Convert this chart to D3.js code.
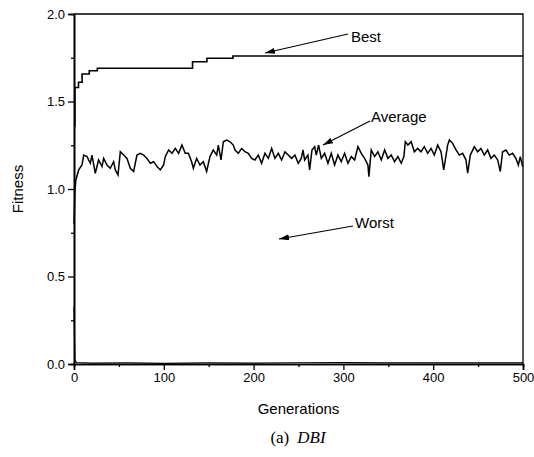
<!DOCTYPE html>
<html>
<head>
<meta charset="utf-8">
<script src="https://cdn.jsdelivr.net/npm/d3@7"></script>
<style>
  body { margin: 0; background: #fff; }
  text { font-family: "Liberation Sans", Arial, sans-serif; fill: #000; }
</style>
</head>
<body>
<svg id="chart"></svg>
<script>
// best fitness per generation (step changes only)
const bestGen = [0, 1, 5, 9, 17, 26, 132, 148, 177, 500]
const bestVal = [1.36, 1.58, 1.61, 1.657, 1.676, 1.69, 1.727, 1.747, 1.76, 1.76]

// average fitness
const avgGen = [0, 1, 2, 5.2, 8.9, 10.8, 14.5, 18.2, 20, 23.7, 27.4, 31.2, 33, 36.7, 40.4, 44.1, 46, 49, 51.6, 55.3,
  59, 62.7, 66.4, 70.1, 73.8, 77.5, 81.2, 85, 88.7, 92.4, 96.1, 99.8, 101.6, 105.4, 109.1, 112.8, 116.5, 120.2, 123.9,
  127.3, 131, 132.9, 136.6, 140.3, 144, 147.7, 151.4, 155.1, 158.9, 160.7, 163.7, 166.3, 170, 173.7, 177.4, 179.3,
  183, 186.7, 190.4, 194.1, 197.8, 201.5, 205.2, 208.9, 212.7, 216.4, 220.1, 223.8, 227.5, 231.2, 234.9, 238.6,
  242.3, 246, 249.7, 253.1, 255, 256.8, 260.5, 262.4, 265, 268, 269.8, 272.4, 275.4, 279.1, 282.8, 286.5, 290.2,
  293.9, 297.6, 301.3, 305.1, 308.8, 312.5, 316.2, 319.9, 323.6, 327.3, 328.4, 331, 334.7, 338.4, 342.2, 345.9,
  349.6, 353.3, 357, 360.7, 364.4, 367.4, 368.9, 371.8, 375.5, 379, 382.7, 386.4, 390.1, 393.9, 397.6, 401.3, 405,
  408.7, 411.7, 416.1, 418, 421.7, 425.4, 429.1, 432.8, 436.5, 438.4, 441.3, 445.8, 449.5, 453.2, 456.9, 460.6,
  464.3, 468.1, 471.8, 474.7, 477.3, 481, 484.7, 488.4, 492.1, 494.8, 497, 499.6]
const avgVal = [0.8, 0.98, 1.05, 1.109, 1.137, 1.194, 1.185, 1.147, 1.194, 1.09, 1.166, 1.128, 1.175, 1.137, 1.118, 1.156, 1.109, 1.08, 1.213, 1.194,
  1.175, 1.118, 1.1, 1.194, 1.204, 1.194, 1.175, 1.147, 1.156, 1.128, 1.109, 1.137, 1.185, 1.223, 1.204, 1.232, 1.204, 1.251, 1.204,
  1.204, 1.156, 1.118, 1.175, 1.137, 1.156, 1.1, 1.185, 1.223, 1.194, 1.251, 1.166, 1.27, 1.28, 1.27, 1.251, 1.223,
  1.204, 1.232, 1.213, 1.204, 1.175, 1.166, 1.194, 1.147, 1.204, 1.175, 1.232, 1.175, 1.204, 1.166, 1.213, 1.194,
  1.175, 1.194, 1.147, 1.175, 1.223, 1.166, 1.194, 1.109, 1.223, 1.242, 1.194, 1.251, 1.175, 1.204, 1.147, 1.204, 1.137,
  1.194, 1.156, 1.204, 1.147, 1.185, 1.166, 1.242, 1.204, 1.175, 1.137, 1.071, 1.223, 1.185, 1.213, 1.166, 1.223,
  1.175, 1.194, 1.156, 1.185, 1.147, 1.185, 1.27, 1.251, 1.27, 1.213, 1.232, 1.213, 1.242, 1.204, 1.232, 1.194, 1.251,
  1.213, 1.109, 1.251, 1.28, 1.261, 1.223, 1.194, 1.204, 1.166, 1.09, 1.194, 1.242, 1.213, 1.232, 1.194, 1.223,
  1.175, 1.194, 1.166, 1.1, 1.213, 1.223, 1.194, 1.204, 1.175, 1.137, 1.185, 1.128]

// worst fitness hugs the x axis
const worstGen = [0, 1, 3, 20, 60, 100, 150, 200, 250, 300, 350, 400, 450, 500]
const worstVal = [0.33, 0.02, 0.008, 0.005, 0.006, 0.004, 0.006, 0.005, 0.007, 0.008, 0.006, 0.007, 0.006, 0.006]

const xTicks = [0, 100, 200, 300, 400, 500]
const yTicks = [0.0, 0.5, 1.0, 1.5, 2.0]

const svg = d3.select("#chart").attr("width", 534).attr("height", 457)
const margin = {top: 14, right: 11, bottom: 93, left: 74}
const width = 534 - margin.left - margin.right
const height = 457 - margin.top - margin.bottom

const g = svg.append("g").attr("transform", "translate(" + margin.left + "," + margin.top + ")")

const x = d3.scaleLinear().domain([0, 500]).range([0, width])
const y = d3.scaleLinear().domain([0, 2]).range([height, 0])

// frame top and right
g.append("path")
  .attr("d", "M0,0H" + width + "V" + height)
  .attr("fill", "none").attr("stroke", "#000").attr("stroke-width", 1.3)

// minor ticks
g.append("g").attr("transform", "translate(0," + height + ")")
  .call(d3.axisBottom(x).tickValues([50, 150, 250, 350, 450]).tickSize(3).tickFormat(""))
g.append("g")
  .call(d3.axisLeft(y).tickValues([0.25, 0.75, 1.25, 1.75]).tickSize(3).tickFormat(""))

// major axes
g.append("g").attr("transform", "translate(0," + height + ")")
  .call(d3.axisBottom(x).tickValues(xTicks).tickSize(6).tickPadding(3).tickFormat(d3.format("d")))
g.append("g")
  .call(d3.axisLeft(y).tickValues(yTicks).tickSize(6).tickPadding(3).tickFormat(d3.format(".1f")))

g.selectAll(".domain").attr("stroke-width", 1.6)
g.selectAll(".tick line").attr("stroke-width", 1.3)
g.selectAll(".tick text").style("font-size", "13px").attr("fill", "#000")

const lineOf = (gens, vals, curve) => d3.line()
  .x((d, i) => x(gens[i]))
  .y(d => y(d))
  .curve(curve)(vals)

g.append("path").attr("d", lineOf(worstGen, worstVal, d3.curveLinear))
  .attr("fill", "none").attr("stroke", "#000").attr("stroke-width", 1.2)
g.append("path").attr("d", lineOf(avgGen, avgVal, d3.curveLinear))
  .attr("fill", "none").attr("stroke", "#000").attr("stroke-width", 1.5)
g.append("path").attr("d", lineOf(bestGen, bestVal, d3.curveStepAfter))
  .attr("fill", "none").attr("stroke", "#000").attr("stroke-width", 1.6)

// arrow annotations
svg.append("defs").append("marker")
  .attr("id", "head").attr("viewBox", "0 0 10 6").attr("refX", 10).attr("refY", 3)
  .attr("markerWidth", 10).attr("markerHeight", 6).attr("orient", "auto")
  .attr("markerUnits", "userSpaceOnUse")
  .append("path").attr("d", "M0,0L10,3L0,6Z").attr("fill", "#000")

const notes = [
  {label: "Best", tx: 351, ty: 42, from: [348, 34], to: [265, 53]},
  {label: "Average", tx: 371, ty: 122, from: [370, 121], to: [323, 145]},
  {label: "Worst", tx: 355, ty: 228, from: [353, 226], to: [279, 239]}
]
notes.forEach(n => {
  svg.append("line")
    .attr("x1", n.from[0]).attr("y1", n.from[1]).attr("x2", n.to[0]).attr("y2", n.to[1])
    .attr("stroke", "#000").attr("stroke-width", 1.2).attr("marker-end", "url(#head)")
  svg.append("text").attr("x", n.tx).attr("y", n.ty).style("font-size", "15px").text(n.label)
})

// axis titles
svg.append("text")
  .attr("transform", "translate(23," + (margin.top + height / 2) + ") rotate(-90)")
  .attr("text-anchor", "middle").style("font-size", "15px").text("Fitness")
svg.append("text").attr("x", margin.left + width / 2).attr("y", 414)
  .attr("text-anchor", "middle").style("font-size", "15px").text("Generations")

const cap = svg.append("text").attr("x", 298).attr("y", 443).attr("text-anchor", "middle")
  .style("font-family", "'Liberation Serif', 'Times New Roman', serif").style("font-size", "17px")
cap.append("tspan").text("(a)")
cap.append("tspan").attr("dx", 8).style("font-style", "italic").text("DBI")
</script>
</body>
</html>
